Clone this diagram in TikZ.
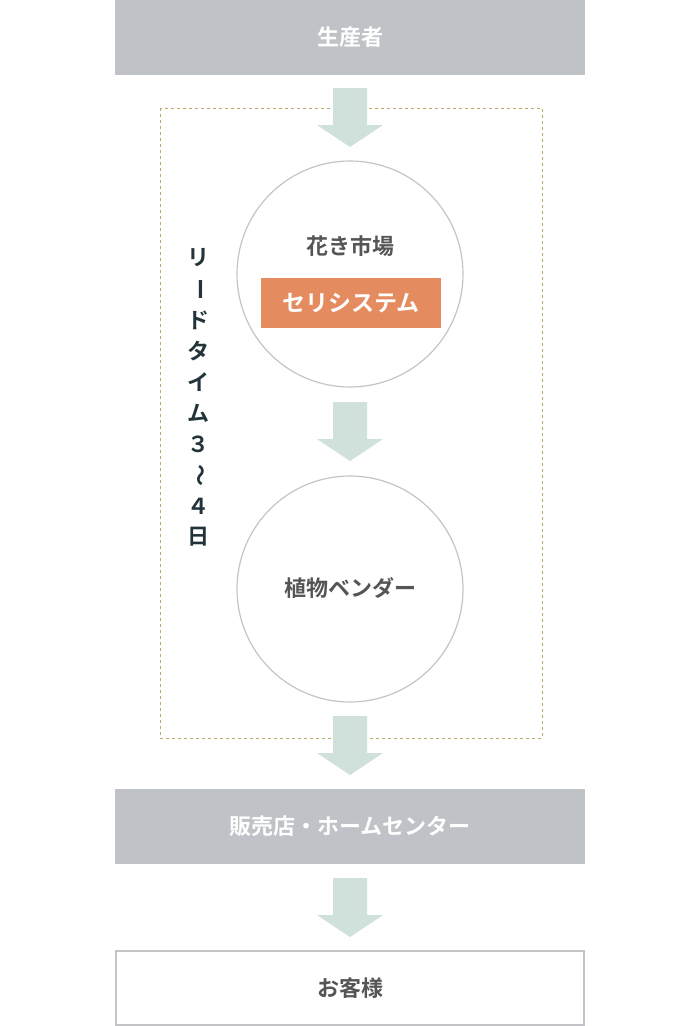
\documentclass[tikz,border=0pt]{standalone}
\usepackage{fontspec}
\newfontfamily\jp{Noto Sans CJK JP}[BoldFont={Noto Sans CJK JP Bold}]
\usetikzlibrary{positioning}
\definecolor{boxgray}{HTML}{BFC3C8}
\definecolor{arrowgreen}{HTML}{D0E1DC}
\definecolor{ringgray}{HTML}{C4C3C8}
\definecolor{dashgold}{HTML}{BCA868}
\definecolor{salmon}{HTML}{E58B60}
\definecolor{textgray}{HTML}{555555}
\definecolor{leaddark}{HTML}{22343A}
\newcommand{\blockarrow}[2]{% x, top y
  \fill[arrowgreen] (#1-17,#2) -- (#1+17,#2) -- (#1+17,#2+37) -- (#1+33,#2+37)
    -- (#1,#2+59) -- (#1-33,#2+37) -- (#1-17,#2+37) -- cycle;}

\begin{document}
\begin{tikzpicture}[x=1pt,y=-1pt,font=\jp\bfseries,
  graybox/.style={fill=boxgray, text=white, minimum width=470pt, minimum height=75pt, inner sep=0pt, font=\jp\bfseries\fontsize{22}{26}\selectfont},
  whitebox/.style={draw=ringgray, line width=1.2pt, fill=white, text=textgray, minimum width=468pt, minimum height=74pt, inner sep=0pt, font=\jp\bfseries\fontsize{22}{26}\selectfont},
  ring/.style={circle, draw=ringgray, line width=1.2pt, minimum size=226pt, inner sep=0pt},
  leadchar/.style={text=leaddark, font=\jp\bfseries\fontsize{22}{26}\selectfont}]
\useasboundingbox (0,0) rectangle (700,1026);

\node[graybox] (producer) at (350,37.5) {生産者};
\draw[dashgold, dashed, line width=1pt] (160,108) rectangle (542,738);

\blockarrow{350}{88}
\node[ring] (market) at (350,274) {};
\node[text=textgray, font=\jp\bfseries\fontsize{22}{26}\selectfont] (marketlabel) at (350,246) {花き市場};
\node[fill=salmon, text=white, minimum width=180pt, minimum height=50pt, inner sep=0pt, font=\jp\bfseries\fontsize{23}{26}\selectfont] (auction) at (351,303) {セリシステム};

\blockarrow{350}{402}
\node[ring] (vendor) at (350,589) {};
\node[text=textgray, font=\jp\bfseries\fontsize{22}{26}\selectfont] (vendorlabel) at (350,588) {植物ベンダー};

\blockarrow{350}{716}
\node[graybox] (shop) at (350,826.5) {販売店・ホームセンター};

\blockarrow{350}{878}
\node[whitebox] (customer) at (350,988) {お客様};

% vertical lead time label
\foreach \ch [count=\i] in {リ,{\rotatebox{-90}{ー}},ド,タ,イ,ム,３,{\rotatebox{-90}{〜}},４,日}
  \node[leadchar] (lead\i) at (198,227+31*\i) {\ch};
\end{tikzpicture}
\end{document}
